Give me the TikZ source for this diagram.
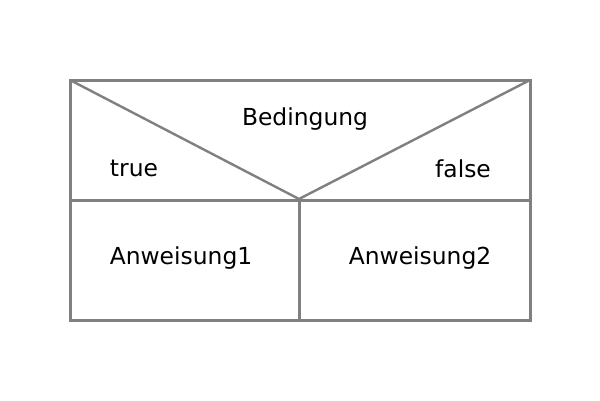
\documentclass[tikz,border=0pt]{standalone}
\usepackage{fontspec}
\setmainfont{DejaVu Sans}
\definecolor{linegray}{RGB}{128,128,128}
\begin{document}
\begin{tikzpicture}[x=1pt,y=-1pt,
  frame/.style={draw=linegray,line width=3pt},
  diag/.style={draw=linegray,line width=2.4pt},
  lbl/.style={inner sep=0pt,font=\fontsize{23.4}{28}\selectfont}]
\useasboundingbox (0,0) rectangle (600,400);
\coordinate (tl) at (70,80);
\coordinate (tr) at (530,80);
\coordinate (ml) at (70,200);
\coordinate (mr) at (530,200);
\coordinate (bl) at (70,320);
\coordinate (br) at (530,320);
\coordinate (mid) at (299,199);
\coordinate (midb) at (299,320);
\draw[diag] (tl) -- (mid) -- (tr);
\draw[frame] (tl) rectangle (br);
\draw[frame] (ml) -- (mr);
\draw[frame] (mid) -- (midb);
\node[lbl] (cond) at (305,119.5) {Bedingung};
\node[lbl] (t) at (134,168.5) {true};
\node[lbl] (f) at (463,168.5) {false};
\node[lbl] (a1) at (181,258.5) {Anweisung1};
\node[lbl] (a2) at (420,258.5) {Anweisung2};
\end{tikzpicture}
\end{document}
